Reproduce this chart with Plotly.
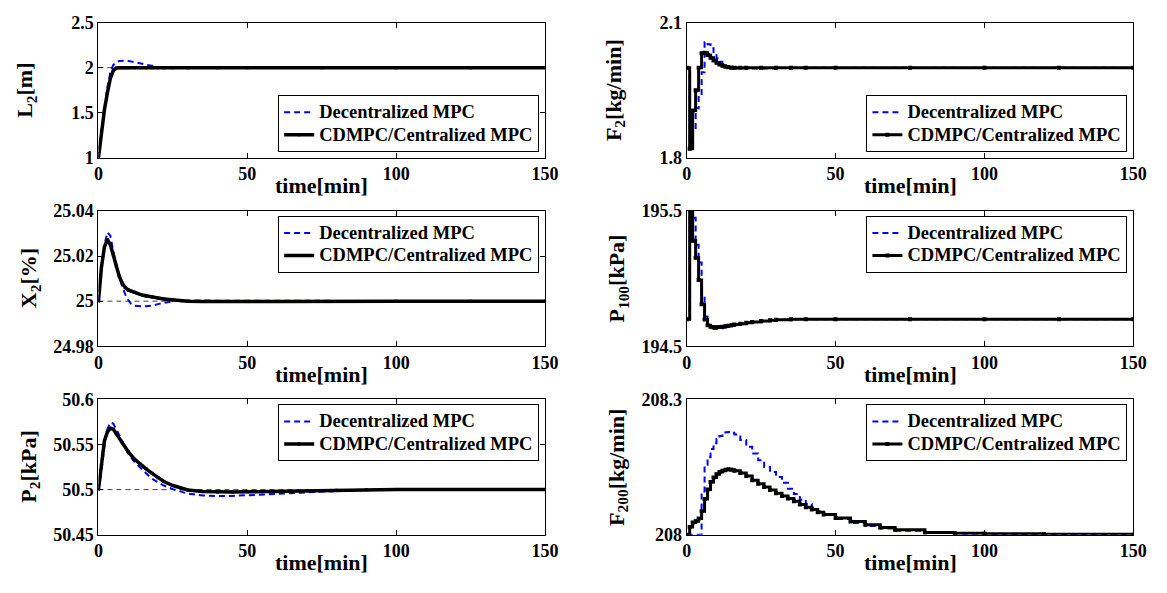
import plotly.graph_objects as go

# ---------------- data ----------------
# L2 [m]
t_L2 = [0, 1, 2, 3, 4, 5, 6, 7, 8, 9, 10, 12, 14, 16, 18, 20, 22, 25, 30, 40, 50, 75, 100, 125, 150]
L2_dec = [1.0, 1.30, 1.55, 1.78, 1.95, 2.03, 2.06, 2.075, 2.08, 2.078, 2.075, 2.06, 2.045, 2.03, 2.015,
          2.006, 2.002, 2.0, 2.0, 2.0, 2.0, 2.0, 2.0, 2.0, 2.0]
L2_cd = [1.0, 1.30, 1.53, 1.72, 1.88, 1.97, 1.995, 2.0, 2.0, 2.0, 2.0, 2.0, 2.0, 2.0, 2.0,
         2.0, 2.0, 2.0, 2.0, 2.0, 2.0, 2.0, 2.0, 2.0, 2.0]
L2_sp = 2.0

# X2 [%]
t_X2 = [0, 1, 2, 3, 4, 5, 6, 7, 8, 9, 10, 11, 12, 13, 14, 15, 16, 18, 20, 22, 25, 28, 30, 35, 40,
        50, 60, 70, 80, 100, 125, 150]
X2_cd = [25.0, 25.015, 25.024, 25.0273, 25.025, 25.0205, 25.0155, 25.011, 25.008, 25.006, 25.005,
         25.0044, 25.0039, 25.0034, 25.003, 25.0026, 25.0023, 25.0018, 25.0014, 25.001, 25.0005,
         25.0002, 25.0, 24.9999, 24.9998, 24.9998, 24.9998, 24.9999, 24.9999, 25.0, 25.0, 25.0]
X2_dec = [25.0, 25.012, 25.025, 25.0305, 25.029, 25.022, 25.016, 25.0105, 25.0065, 25.003, 25.0005,
          24.9988, 24.998, 24.9978, 24.9977, 24.9977, 24.9978, 24.998, 24.9987, 24.9993, 25.0,
          25.0002, 25.0003, 25.0003, 25.0002, 25.0002, 25.0001, 25.0001, 25.0, 25.0, 25.0, 25.0]
X2_sp = 25.0

# P2 [kPa]
t_P2 = [0, 1, 2, 3, 4, 5, 6, 8, 10, 12, 14, 16, 18, 20, 22, 25, 28, 30, 35, 40, 45, 50, 60, 70, 80,
        90, 100, 125, 150]
P2_cd = [50.5, 50.527, 50.554, 50.564, 50.568, 50.567, 50.562, 50.552, 50.542, 50.534, 50.528,
         50.523, 50.518, 50.513, 50.509, 50.5045, 50.501, 50.4995, 50.4978, 50.4972, 50.4972,
         50.4975, 50.498, 50.4988, 50.4993, 50.4997, 50.5, 50.5, 50.5]
P2_dec = [50.5, 50.52, 50.548, 50.567, 50.5745, 50.573, 50.567, 50.554, 50.540, 50.531, 50.524,
          50.518, 50.512, 50.508, 50.5045, 50.5005, 50.4972, 50.4955, 50.4935, 50.4928, 50.493,
          50.4935, 50.4952, 50.497, 50.4985, 50.4995, 50.5, 50.5, 50.5]
P2_sp = 50.5

# F2 [kg/min]  (piecewise constant inputs)
t_F2 = [0, 1, 2, 3, 4, 5, 6, 7, 8, 9, 10, 11, 12, 13, 14, 15, 16, 18, 20, 25, 30, 35, 40, 50, 75,
        100, 125, 150]
F2_cd = [2.0, 1.82, 1.905, 1.95, 2.0, 2.032, 2.033, 2.028, 2.022, 2.016, 2.011, 2.007, 2.004, 2.002,
         2.001, 2.0, 2.0, 2.0, 2.0, 2.0, 2.0, 2.0, 2.0, 2.0, 2.0, 2.0, 2.0, 2.0]
F2_dec = [2.0, 1.82, 1.86, 1.91, 1.935, 1.99, 2.057, 2.052, 2.043, 2.032, 2.021, 2.013, 2.007, 2.003,
          2.0, 1.999, 1.998, 1.998, 1.998, 1.998, 1.999, 2.0, 2.0, 2.0, 2.0, 2.0, 2.0, 2.0]

# P100 [kPa]
t_P100 = [0, 1, 2, 3, 4, 5, 6, 7, 8, 9, 10, 11, 12, 13, 14, 15, 16, 18, 20, 22, 25, 28, 30, 35, 40,
          50, 75, 100, 125, 150]
P100_cd = [194.7, 195.9, 195.28, 195.155, 194.99, 194.81, 194.698, 194.655, 194.645, 194.64, 194.64,
           194.642, 194.645, 194.648, 194.652, 194.656, 194.66, 194.667, 194.674, 194.68, 194.687,
           194.693, 194.696, 194.699, 194.7, 194.7, 194.7, 194.7, 194.7, 194.7]
P100_dec = [194.7, 195.9, 195.45, 195.25, 195.12, 194.88, 194.72, 194.65, 194.632, 194.628, 194.63,
            194.634, 194.639, 194.644, 194.649, 194.654, 194.658, 194.666, 194.673, 194.679, 194.687,
            194.693, 194.696, 194.699, 194.7, 194.7, 194.7, 194.7, 194.7, 194.7]

# F200 [kg/min]
t_F200 = [0, 1, 2, 3, 4, 5, 6, 7, 8, 9, 10, 11, 12, 13, 14, 15, 16, 18, 20, 22, 24, 26, 28, 30, 32,
          34, 36, 38, 40, 42, 44, 46, 50, 55, 60, 65, 70, 80, 90, 100, 120, 150]
F200_cd = [208.0, 208.017, 208.027, 208.03, 208.036, 208.052, 208.079, 208.1, 208.117, 208.127,
           208.134, 208.139, 208.142, 208.144, 208.145, 208.144, 208.142, 208.137, 208.13, 208.121,
           208.113, 208.106, 208.099, 208.092, 208.086, 208.08, 208.074, 208.067, 208.061, 208.056,
           208.05, 208.045, 208.037, 208.029, 208.022, 208.016, 208.011, 208.005, 208.003, 208.002,
           208.001, 208.0]
F200_dec = [208.0, 208.0, 208.0, 208.0, 208.0, 208.096, 208.155, 208.172, 208.19, 208.203, 208.212,
            208.219, 208.224, 208.227, 208.228, 208.226, 208.222, 208.21, 208.195, 208.18, 208.165,
            208.15, 208.139, 208.128, 208.115, 208.102, 208.09, 208.078, 208.068, 208.06, 208.052,
            208.045, 208.035, 208.026, 208.019, 208.014, 208.009, 208.004, 208.002, 208.001, 208.0,
            208.0]

# axis ticks
x_ticks = [0, 50, 100, 150]
L2_ticks = [1, 1.5, 2, 2.5]
X2_ticks = [24.98, 25, 25.02, 25.04]
P2_ticks = [50.45, 50.5, 50.55, 50.6]
F2_ticks = [1.8, 2.1]
P100_ticks = [194.5, 195.5]
F200_ticks = [208, 208.3]

names = ["Decentralized MPC", "CDMPC/Centralized MPC"]

# ---------------- layout constants ----------------
W, H = 1167, 593
FONT = "Liberation Serif, Times New Roman, serif"
BLUE = "#0000ff"

def fx(p):
    return p / W

def fy(p):
    return 1 - p / H

col_x = [(95, 549), (693, 1147)]
row_y = [(13, 153), (208, 348), (403, 543)]

panels = [
    dict(t=t_L2, dec=L2_dec, cd=L2_cd, sp=L2_sp, shape="linear", yr=[1, 2.5], tv=L2_ticks,
         lab="L<sub>2</sub>[m]", labx=22, leg="bottom"),
    dict(t=t_F2, dec=F2_dec, cd=F2_cd, sp=None, shape="hv", yr=[1.8, 2.1], tv=F2_ticks,
         lab="F<sub>2</sub>[kg/min]", labx=620, leg="bottom"),
    dict(t=t_X2, dec=X2_dec, cd=X2_cd, sp=X2_sp, shape="linear", yr=[24.98, 25.04], tv=X2_ticks,
         lab="X<sub>2</sub>[%]", labx=25, leg="top"),
    dict(t=t_P100, dec=P100_dec, cd=P100_cd, sp=None, shape="hv", yr=[194.5, 195.5], tv=P100_ticks,
         lab="P<sub>100</sub>[kPa]", labx=623, leg="top"),
    dict(t=t_P2, dec=P2_dec, cd=P2_cd, sp=P2_sp, shape="linear", yr=[50.45, 50.6], tv=P2_ticks,
         lab="P<sub>2</sub>[kPa]", labx=25, leg="top"),
    dict(t=t_F200, dec=F200_dec, cd=F200_cd, sp=None, shape="hv", yr=[208, 208.3], tv=F200_ticks,
         lab="F<sub>200</sub>[kg/min]", labx=623, leg="top"),
]

def fmt(v):
    return ("%.4f" % v).rstrip("0").rstrip(".")

def b(s):
    return "<b>" + s + "</b>"

def legname(s):
    # legend rows are spaced from the legend font size; the text itself is drawn larger
    return '<span style="font-size:18.5px"><b>' + s + "</b></span>"

fig = go.Figure()
layout = dict(
    width=W, height=H, margin=dict(l=0, r=0, t=0, b=0),
    paper_bgcolor="white", plot_bgcolor="white",
    font=dict(family=FONT, color="black", size=18),
    annotations=[],
)

tickfont = dict(family=FONT, size=18, color="black")

for i, p in enumerate(panels, start=1):
    s = "" if i == 1 else str(i)
    row, col = (i - 1) // 2, (i - 1) % 2
    x0, x1 = col_x[col]
    y0, y1 = row_y[row]
    xa, ya = "x" + s, "y" + s
    lg = "legend" + s
    step = p["shape"] == "hv"

    if p["sp"] is not None:
        fig.add_trace(go.Scatter(x=[0, 150], y=[p["sp"], p["sp"]], mode="lines",
                                 line=dict(color="#444444", width=1, dash="5px,4px"),
                                 showlegend=False, hoverinfo="skip", xaxis=xa, yaxis=ya))
    fig.add_trace(go.Scatter(x=p["t"], y=p["dec"], mode="lines", name=legname(names[0]),
                             line=dict(color=BLUE, width=2, dash="6px,4px", shape=p["shape"]),
                             xaxis=xa, yaxis=ya, legend=lg))
    fig.add_trace(go.Scatter(x=p["t"], y=p["cd"], mode="lines+markers", name=legname(names[1]),
                             line=dict(color="black", width=3 if step else 3.5, shape=p["shape"]),
                             marker=dict(symbol="square", size=4 if step else 3, color="black"),
                             xaxis=xa, yaxis=ya, legend=lg))

    common = dict(showline=True, linecolor="black", linewidth=1, mirror="ticks",
                  ticks="inside", ticklen=5, tickwidth=1, tickcolor="black",
                  showgrid=False, zeroline=False, tickfont=tickfont)
    layout["xaxis" + s] = dict(common, domain=[fx(x0), fx(x1)], anchor=ya, range=[0, 150],
                               tickmode="array", tickvals=x_ticks,
                               ticktext=[b(str(v)) for v in x_ticks])
    layout["yaxis" + s] = dict(common, domain=[fy(y1), fy(y0)], anchor=xa, range=p["yr"],
                               tickmode="array", tickvals=p["tv"],
                               ticktext=[b(fmt(v)) for v in p["tv"]])

    if p["leg"] == "bottom":
        legpos = dict(x=fx(x1 - 6), y=fy(y1 - 6), xanchor="right", yanchor="bottom")
    else:
        legpos = dict(x=fx(x1 - 6), y=fy(y0 + 5), xanchor="right", yanchor="top")
    layout[lg] = dict(legpos, bgcolor="white", bordercolor="black", borderwidth=1,
                      font=dict(family=FONT, size=15, color="black"),
                      itemwidth=30, tracegroupgap=0)

    # y-axis title
    layout["annotations"].append(dict(
        text=b(p["lab"]), x=fx(p["labx"]), y=fy((y0 + y1) / 2), xref="paper", yref="paper",
        xanchor="center", yanchor="middle", textangle=-90, showarrow=False,
        font=dict(family=FONT, size=22, color="black")))
    # x-axis title
    layout["annotations"].append(dict(
        text=b("time[min]"), x=fx((x0 + x1) / 2), y=fy(y1 + 29), xref="paper", yref="paper",
        xanchor="center", yanchor="middle", showarrow=False,
        font=dict(family=FONT, size=22, color="black")))

fig.update_layout(**layout)
fig.write_html("out.html")
